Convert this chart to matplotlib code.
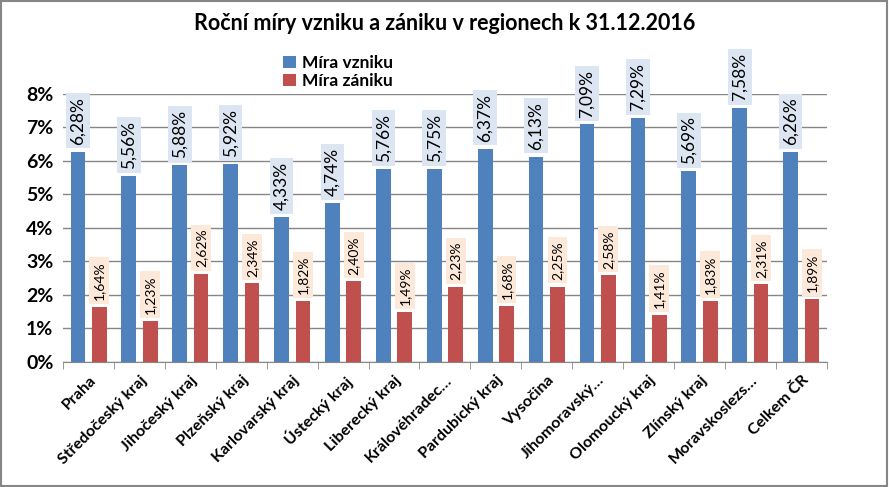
import numpy as np
import matplotlib.pyplot as plt
from matplotlib.patches import Rectangle

plt.rcParams['font.family'] = ['Lato', 'DejaVu Sans']

regions = ["Praha", "Středočeský kraj", "Jihočeský kraj", "Plzeňský kraj",
           "Karlovarský kraj", "Ústecký kraj", "Liberecký kraj", "Královéhradec…",
           "Pardubický kraj", "Vysočina", "Jihomoravský…", "Olomoucký kraj",
           "Zlínský kraj", "Moravskoslezs…", "Celkem ČR"]
vznik = [6.28, 5.56, 5.88, 5.92, 4.33, 4.74, 5.76, 5.75, 6.37, 6.13, 7.09, 7.29, 5.69, 7.58, 6.26]
zanik = [1.64, 1.23, 2.62, 2.34, 1.82, 2.40, 1.49, 2.23, 1.68, 2.25, 2.58, 1.41, 1.83, 2.31, 1.89]

blue = "#4f81bd"
red = "#c0504d"

fig = plt.figure(figsize=(8.89, 4.87), dpi=100)
ax = fig.add_axes([0.071, 0.257, 0.859, 0.550])

x = np.arange(len(regions))
w = 0.29
b1 = ax.bar(x - 0.21, vznik, w, color=blue, zorder=3, label="Míra vzniku")
b2 = ax.bar(x + 0.21, zanik, w, color=red, zorder=3, label="Míra zániku")

def fmt(v):
    return f"{v:.2f}%".replace(".", ",")

for xi, v in zip(x, vznik):
    ax.annotate(fmt(v), (xi - 0.21, v), xytext=(0, 5), textcoords="offset points",
                rotation=90, ha="center", va="bottom", fontsize=12.5, zorder=4,
                bbox=dict(boxstyle="square,pad=0.22", fc="#dce6f2", ec="none"))
for xi, v in zip(x, zanik):
    ax.annotate(fmt(v), (xi + 0.21, v), xytext=(0, 5), textcoords="offset points",
                rotation=90, ha="center", va="bottom", fontsize=10, zorder=4,
                bbox=dict(boxstyle="square,pad=0.28", fc="#fde9d9", ec="none"))

ax.set_xlim(-0.5, len(regions) - 0.5)
ax.set_ylim(0, 8)
ax.set_yticks(range(0, 9))
ax.set_yticklabels([f"{i}%" for i in range(0, 9)], fontsize=14, fontweight="bold")
ax.yaxis.grid(True, color="#868686", linewidth=1, zorder=0)
ax.tick_params(axis="y", length=0, pad=7)

ax.set_xticks(x)
ax.set_xticklabels(regions, rotation=45, ha="right", rotation_mode="anchor",
                   fontsize=11.5, fontweight="bold")
ax.tick_params(axis="x", length=0, pad=8)
ax.set_xticks(np.arange(-0.5, len(regions)), minor=True)
ax.tick_params(axis="x", which="minor", length=5, color="#868686")

for s in ["top", "right", "left"]:
    ax.spines[s].set_visible(False)
ax.spines["bottom"].set_color("#868686")

fig.text(0.5, 0.952, "Roční míry vzniku a zániku v regionech k 31.12.2016",
         ha="center", va="center", fontsize=15.5, fontweight="bold")
fig.legend(handles=[b1, b2], loc="upper left", bbox_to_anchor=(0.309, 0.905),
           frameon=False, prop=dict(size=12.5, weight="bold"), handlelength=0.7,
           handleheight=0.7, handletextpad=0.4, labelspacing=0.1, borderpad=0)

fig.patches.append(Rectangle((0.001, 0.002), 0.997, 0.995, transform=fig.transFigure,
                             fill=False, ec="#868686", lw=1.5))

fig.savefig("out.png", dpi=100)
